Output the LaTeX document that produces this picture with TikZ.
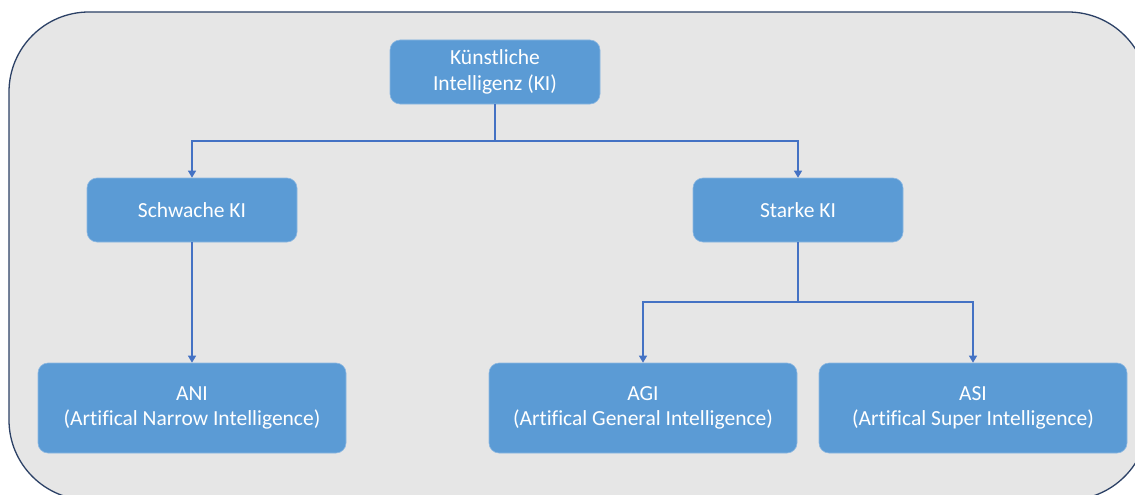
\documentclass[tikz,border=0pt]{standalone}
\usepackage{fontspec}
\setmainfont{Carlito}[Ligatures=NoCommon]
\usetikzlibrary{arrows.meta}
\definecolor{panelfill}{HTML}{E6E6E6}
\definecolor{panelline}{HTML}{2C4166}
\definecolor{boxfill}{HTML}{5B9BD5}
\definecolor{boxedge}{HTML}{8DB8E2}
\definecolor{linkcol}{HTML}{4472C4}
\tikzset{
  kbox/.style={rectangle, rounded corners=10pt, fill=boxfill, draw=boxedge, line width=0.6pt,
    text=white, align=center, inner sep=0pt,
    font=\fontsize{21.5}{25.5}\selectfont},
  smallbox/.style={kbox, minimum width=210pt, minimum height=64pt},
  bigbox/.style={kbox, minimum width=308pt, minimum height=90pt},
  link/.style={draw=linkcol, line width=1.3pt, -{Triangle[width=8pt,length=7pt]}},
  plainlink/.style={draw=linkcol, line width=1.3pt}
}
\begin{document}
\begin{tikzpicture}[x=1pt, y=-1pt]
  \useasboundingbox (0,0) rectangle (1135,495);
  % rounded panel behind the hierarchy
  \begin{scope}
    \clip (0,0) rectangle (1135,495);
    \draw[panelline, fill=panelfill, line width=1.3pt, rounded corners=80pt]
      (9,12) rectangle (1148,500);
  \end{scope}

  % boxes
  \node[smallbox] (ki) at (495,72) {Künstliche\\Intelligenz (KI)};
  \node[smallbox] (weak) at (192,210) {Schwache KI};
  \node[smallbox] (strong) at (798,210) {Starke KI};
  \node[bigbox] (ani) at (192,408) {ANI\\(Artifical Narrow Intelligence)};
  \node[bigbox] (agi) at (643,408) {AGI\\(Artifical General Intelligence)};
  \node[bigbox] (asi) at (973,408) {ASI\\(Artifical Super Intelligence)};

  % branch points
  \coordinate (kijoin) at (495,141);
  \coordinate (strongjoin) at (798,302);

  % connectors
  \draw[plainlink] (ki.south) -- (kijoin);
  \draw[link] (kijoin) -| (weak.north);
  \draw[link] (kijoin) -| (strong.north);
  \draw[link] (weak.south) -- (ani.north);
  \draw[plainlink] (strong.south) -- (strongjoin);
  \draw[link] (strongjoin) -| (agi.north);
  \draw[link] (strongjoin) -| (asi.north);
\end{tikzpicture}
\end{document}
